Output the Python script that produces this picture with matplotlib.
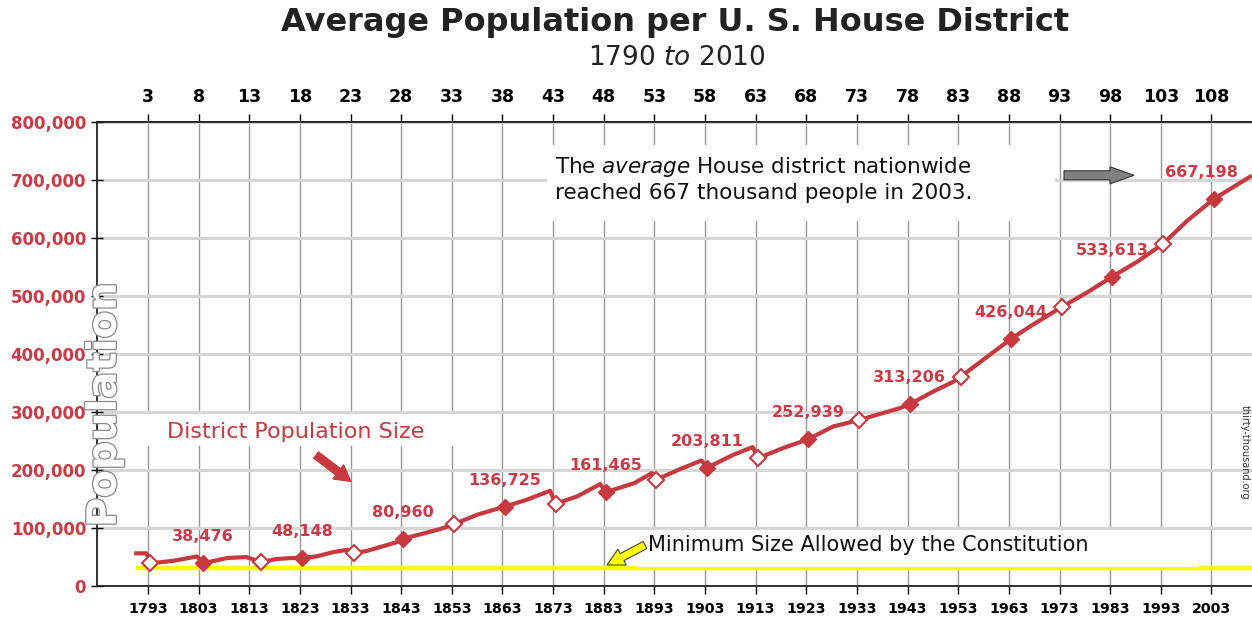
import matplotlib
matplotlib.use('Agg')
import matplotlib.pyplot as plt
from matplotlib.patches import Rectangle, FancyArrow
from matplotlib.transforms import IdentityTransform
from matplotlib.ticker import FuncFormatter
import matplotlib.patheffects as pe

# Chart Data
line_years = [1790.7, 1792.7, 1793.5, 1798.0, 1802.7, 1803.8, 1808.6, 1812.4, 1815.3,
              1818.4, 1821.7, 1823.4, 1826.3, 1829.6, 1832.4, 1833.6, 1836.2, 1839.5,
              1842.5, 1843.4, 1850.7, 1853.45, 1858.0, 1863.5, 1867.8, 1872.4, 1873.5,
              1877.7, 1882.3, 1883.4, 1889.0, 1892.5, 1893.3, 1898.0, 1902.3, 1903.4,
              1908.6, 1912.4, 1913.5, 1918.4, 1923.4, 1928.3, 1933.4, 1941.5, 1943.4,
              1948.0, 1952.0, 1953.5, 1963.4, 1967.8, 1973.4, 1978.4, 1983.4, 1988.3,
              1993.4, 1998.2, 2003.4, 2010.6]
line_pop = [55900, 55900, 38600, 43000, 50500, 38476, 47800, 49500, 41000,
            46000, 48000, 48148, 50600, 58000, 62000, 56000, 60000, 68400,
            76000, 80960, 97800, 106400, 122500, 136725, 148400, 163900, 141500,
            154000, 175400, 161465, 177000, 194400, 182900, 201000, 216200, 203811,
            226000, 239300, 220300, 237600, 252939, 274900, 286000, 306600, 313206,
            335000, 352000, 361000, 426044, 451000, 481000, 506000, 533613, 559000,
            590000, 630000, 667198, 706000]

filled_years = [1803.8, 1823.4, 1843.4, 1863.5, 1883.4, 1903.4, 1923.4, 1943.4, 1963.4, 1983.4, 2003.4]
filled_pop = [38476, 48148, 80960, 136725, 161465, 203811, 252939, 313206, 426044, 533613, 667198]

open_years = [1793.5, 1815.3, 1833.6, 1853.45, 1873.5, 1893.3, 1913.5, 1933.4, 1953.5, 1973.4, 1993.4]
open_pop = [38600, 41000, 56000, 106400, 141500, 182900, 220300, 286000, 361000, 481000, 590000]

min_years = [1790.7, 2011.0]
min_pop = [30000, 30000]

tick_years = [1793, 1803, 1813, 1823, 1833, 1843, 1853, 1863, 1873, 1883, 1893,
              1903, 1913, 1923, 1933, 1943, 1953, 1963, 1973, 1983, 1993, 2003]
congress = ['3', '8', '13', '18', '23', '28', '33', '38', '43', '48', '53',
            '58', '63', '68', '73', '78', '83', '88', '93', '98', '103', '108']

W, H = 1252, 618
RED = '#c8393f'
LABEL_RED = '#cc3b45'

def fx(x): return x / W
def fy(y): return 1 - y / H

fig = plt.figure(figsize = (W / 100, H / 100), dpi = 100)
ax = fig.add_axes([fx(97.3), fy(585.7), (W - 97.3) / W, (585.7 - 122.3) / H])
ax.set_axisbelow(True)

ax.set_xlim(1783.0, 2011.0)
ax.set_ylim(0, 800000)

# Grid
ax.set_xticks(tick_years)
ax.set_yticks(range(0, 800001, 100000))
ax.grid(axis = 'x', color = '#9a9a9a', lw = 1.0)
ax.grid(axis = 'y', color = '#d6d6d6', lw = 2.2)

for side in ['left', 'bottom', 'top']:
    ax.spines[side].set_color('#222222')
    ax.spines[side].set_linewidth(1.3)
ax.spines['right'].set_visible(False)

ax.yaxis.set_major_formatter(FuncFormatter(lambda v, p: f'{v:,.0f}'))
ax.tick_params(axis = 'y', direction = 'inout', length = 8, width = 1, pad = 4,
               labelsize = 12, labelcolor = LABEL_RED)
ax.tick_params(axis = 'x', direction = 'out', length = 6, width = 1, pad = 6, labelsize = 10.3)
for lbl in ax.get_xticklabels() + ax.get_yticklabels():
    lbl.set_fontweight('bold')

# Congress numbers on top
secax = ax.secondary_xaxis('top')
secax.set_xticks(tick_years, labels = congress)
secax.tick_params(direction = 'out', length = 6, width = 1, pad = 6, labelsize = 12.5)
secax.spines['top'].set_color('#222222')
secax.spines['top'].set_linewidth(1.3)
for lbl in secax.get_xticklabels():
    lbl.set_fontweight('bold')

# White boxes behind annotations
def px_rect(x0, y0, x1, y1, z):
    r = Rectangle((fx(x0), fy(y1)), (x1 - x0) / W, (y1 - y0) / H, transform = fig.transFigure,
                  fc = 'white', ec = 'none', zorder = z, clip_on = False)
    ax.add_patch(r)

px_rect(140, 414, 460, 446, 1)
px_rect(547, 145, 1055, 221, 1)

# Minimum size line
ax.plot(min_years, min_pop, color = '#ffff00', lw = 3.2, zorder = 2, solid_capstyle = 'butt')
px_rect(638, 530, 1198, 566.5, 2.5)

# District population line
ax.plot(line_years, line_pop, color = RED, lw = 3, zorder = 3, solid_joinstyle = 'round')
ax.plot(filled_years, filled_pop, 'D', color = RED, ms = 8, zorder = 4)
ax.plot(open_years, open_pop, 'D', mfc = 'white', mec = RED, mew = 1.5, ms = 8, zorder = 4)

for i, (yr, pop) in enumerate(zip(filled_years, filled_pop)):
    dx = -12 if i == len(filled_years) - 1 else 0
    ax.annotate(f'{pop:,}', (yr, pop), xytext = (dx, 26.5), textcoords = 'offset pixels',
                ha = 'center', va = 'center', fontsize = 11.5, fontweight = 'bold',
                color = LABEL_RED, zorder = 5)

# Titles
fig.text(fx(675.5), fy(22), 'Average Population per U. S. House District', fontsize = 23,
         fontweight = 'bold', ha = 'center', va = 'center', color = '#222222')
fig.text(fx(677), fy(58), '1790 $\\mathit{to}$ 2010', fontsize = 19,
         ha = 'center', va = 'center', color = '#222222')

# Y label
fig.text(fx(104.7), fy(405), 'Population', rotation = 90, fontsize = 29, fontweight = 'bold',
         ha = 'center', va = 'center', color = 'white',
         path_effects = [pe.withStroke(linewidth = 1.8, foreground = '#8a8a8a')])

# Annotations
fig.text(fx(166.7), fy(432.3), 'District Population Size', fontsize = 16, color = RED,
         ha = 'left', va = 'center')
fig.text(fx(555), fy(179), 'The $\\mathit{average}$ House district nationwide\nreached 667 thousand people in 2003.',
         fontsize = 15.5, color = '#111111', ha = 'left', va = 'center', linespacing = 1.25)
fig.text(fx(648.3), fy(545), 'Minimum Size Allowed by the Constitution', fontsize = 15,
         color = '#111111', ha = 'left', va = 'center')
fig.text(fx(1245), fy(452), 'thirty-thousand.org', rotation = -90, fontsize = 7,
         color = '#333333', ha = 'center', va = 'center')

# Arrows (pixel coordinates, y from top)
def px_arrow(x0, y0, x1, y1, fc, ec, width, head_width, head_length):
    a = FancyArrow(x0, H - y0, x1 - x0, -(y1 - y0), width = width, head_width = head_width,
                   head_length = head_length, length_includes_head = True,
                   fc = fc, ec = ec, lw = 0.8, transform = IdentityTransform(), zorder = 6)
    fig.add_artist(a)

px_arrow(316.0, 455.0, 351.0, 481.5, RED, RED, 8, 18, 16)
px_arrow(645.0, 545.0, 607.0, 565.0, '#ffff00', '#444444', 8, 18, 17)
px_arrow(1064, 175.3, 1134, 175.3, '#808080', '#333333', 9, 17, 24)

fig.savefig('out.png', dpi = 100)
